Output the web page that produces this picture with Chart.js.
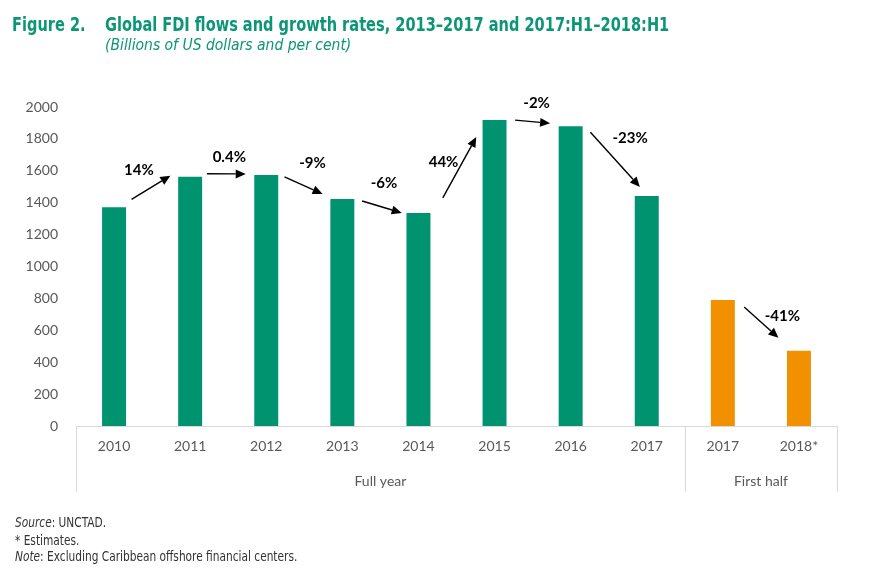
<!DOCTYPE html>
<html><head><meta charset="utf-8">
<script src="https://cdn.jsdelivr.net/npm/chart.js@4/dist/chart.umd.min.js"></script>
<style>
html,body{margin:0;padding:0;background:#fff;}
#wrap{position:relative;width:872px;height:572px;overflow:hidden;background:#fff;}
#c{position:absolute;left:0;top:0;}
.t{position:absolute;font-family:"DejaVu Sans Condensed","DejaVu Sans",sans-serif;white-space:nowrap;line-height:1;transform-origin:0 0;}
</style></head><body>
<div id="wrap">
<canvas id="c" width="872" height="572"></canvas>
<div class="t" style="left:12px;top:14px;font-size:20px;font-weight:bold;color:#0b9676;transform:scaleX(0.81);">Figure 2.</div>
<div class="t" style="left:105px;top:14px;font-size:20px;font-weight:bold;color:#0b9676;transform:scaleX(0.81);">Global FDI flows and growth rates, 2013–2017 and 2017:H1–2018:H1</div>
<div class="t" style="left:105px;top:38px;font-size:15.5px;font-style:italic;color:#0b9676;">(Billions of US dollars and per cent)</div>
<div class="t" style="left:15px;top:516px;font-size:13.5px;color:#333;transform:scaleX(0.873);"><i>Source</i>: UNCTAD.</div>
<div class="t" style="left:15px;top:534px;font-size:13.5px;color:#333;transform:scaleX(0.873);">* Estimates.</div>
<div class="t" style="left:15px;top:550px;font-size:13.5px;color:#333;transform:scaleX(0.873);"><i>Note</i>: Excluding Caribbean offshore financial centers.</div>
</div>
<script>
// ---- data ----
const categories = ['2010','2011','2012','2013','2014','2015','2016','2017','2017','2018*'];
const groupNames = ['Full year','First half'];
const groupOfCategory = [0,0,0,0,0,0,0,0,1,1];
const fdiValues = [1371,1563,1574,1423,1336,1918,1879,1442,790,472];
const growthLabels = ['14%','0.4%','-9%','-6%','44%','-2%','-23%','-41%'];
const growthFrom = [0,1,2,3,4,5,6,8];
const growthTo   = [1,2,3,4,5,6,7,9];
const yTickMin = 0, yTickMax = 2000, yTickStep = 200;

// ---- styling / annotation layout ----
const groupColors = ['#00936f','#f29100'];
// x offsets in category widths, y offsets in px above bar top, label offsets from arrow midpoint in px
const arrowLayout = [
  {x0:0.23,x1:0.26,dy0:8,dy1:1,lx:-12,ly:-17},
  {x0:0.22,x1:0.27,dy0:3,dy1:1,lx:3,ly:-17},
  {x0:0.24,x1:0.26,dy0:-2,dy1:5,lx:9,ly:-22},
  {x0:0.26,x1:0.22,dy0:-2,dy1:0,lx:2,ly:-24},
  {x0:0.32,x1:0.24,dy0:15,dy1:-17,lx:-16,ly:-5},
  {x0:0.27,x1:0.27,dy0:0,dy1:3,lx:4,ly:-19},
  {x0:0.26,x1:0.09,dy0:-6,dy1:9,lx:15,ly:-21},
  {x0:0.28,x1:0.27,dy0:-7,dy1:13,lx:21,ly:-6}
];

const overlay = {
  id:'overlay',
  afterDatasetsDraw(chart){
    const ctx = chart.ctx, xs = chart.scales.x, ys = chart.scales.y, area = chart.chartArea;
    const step = xs.getPixelForValue(1) - xs.getPixelForValue(0);
    ctx.save();
    ctx.strokeStyle = '#d9d9d9'; ctx.lineWidth = 1;
    const yTop = area.bottom, yBot = 492;
    let start = 0;
    const bounds = [];
    for (let i=1;i<=categories.length;i++){
      if (i===categories.length || groupOfCategory[i]!==groupOfCategory[start]){
        bounds.push([start,i-1]); start = i;
      }
    }
    const edges = new Set();
    bounds.forEach(([a,b])=>{
      edges.add(Math.round(xs.getPixelForValue(a)-step/2)+0.5);
      edges.add(Math.round(xs.getPixelForValue(b)+step/2)+0.5);
    });
    edges.forEach(x=>{ctx.beginPath();ctx.moveTo(x,yTop);ctx.lineTo(x,yBot);ctx.stroke();});
    ctx.fillStyle = '#595959'; ctx.font = '14px Lato'; ctx.textAlign='center'; ctx.textBaseline='middle';
    bounds.forEach(([a,b])=>{
      const cx = (xs.getPixelForValue(a)+xs.getPixelForValue(b))/2;
      ctx.fillText(groupNames[groupOfCategory[a]], cx, 481);
    });
    ctx.strokeStyle = '#000'; ctx.fillStyle = '#000'; ctx.lineWidth = 1.4;
    growthLabels.forEach((lab,k)=>{
      const L = arrowLayout[k], i = growthFrom[k], j = growthTo[k];
      const sx = xs.getPixelForValue(i) + L.x0*step;
      const sy = ys.getPixelForValue(fdiValues[i]) - L.dy0;
      const ex = xs.getPixelForValue(j) - L.x1*step;
      const ey = ys.getPixelForValue(fdiValues[j]) - L.dy1;
      const ang = Math.atan2(ey-sy, ex-sx);
      const hl = 10, hw = 4.5;
      const bx = ex - hl*Math.cos(ang), by = ey - hl*Math.sin(ang);
      ctx.beginPath(); ctx.moveTo(sx,sy); ctx.lineTo(bx,by); ctx.stroke();
      ctx.beginPath();
      ctx.moveTo(ex,ey);
      ctx.lineTo(bx + hw*Math.sin(ang), by - hw*Math.cos(ang));
      ctx.lineTo(bx - hw*Math.sin(ang), by + hw*Math.cos(ang));
      ctx.closePath(); ctx.fill();
      ctx.font = 'bold 15px Lato'; ctx.textAlign='center'; ctx.textBaseline='middle';
      ctx.fillText(lab, (sx+ex)/2 + L.lx, (sy+ey)/2 + L.ly);
    });
    ctx.restore();
  }
};

new Chart(document.getElementById('c'), {
  type:'bar',
  data:{
    labels: categories,
    datasets:[{
      data: fdiValues,
      backgroundColor: groupOfCategory.map(g=>groupColors[g]),
      borderWidth:0,
      barPercentage:0.315,
      categoryPercentage:1.0
    }]
  },
  options:{
    responsive:false,
    animation:false,
    layout:{padding:{left:0,right:35,top:107,bottom:0}},
    plugins:{legend:{display:false},tooltip:{enabled:false},title:{display:false}},
    scales:{
      x:{
        grid:{display:false,drawTicks:false},
        border:{display:true,color:'#d9d9d9',width:1},
        ticks:{color:'#595959',font:{family:'Lato',size:14},padding:12,maxRotation:0,autoSkip:false},
        afterFit(s){ s.height = 146; }
      },
      y:{
        min:yTickMin,max:yTickMax,
        grid:{display:false,drawTicks:false},
        border:{display:false},
        ticks:{stepSize:yTickStep,color:'#595959',font:{family:'Lato',size:14},padding:18,
               callback:(v)=>String(v)},
        afterFit(s){ s.width = 76; }
      }
    }
  },
  plugins:[overlay]
});
</script>
</body></html>
